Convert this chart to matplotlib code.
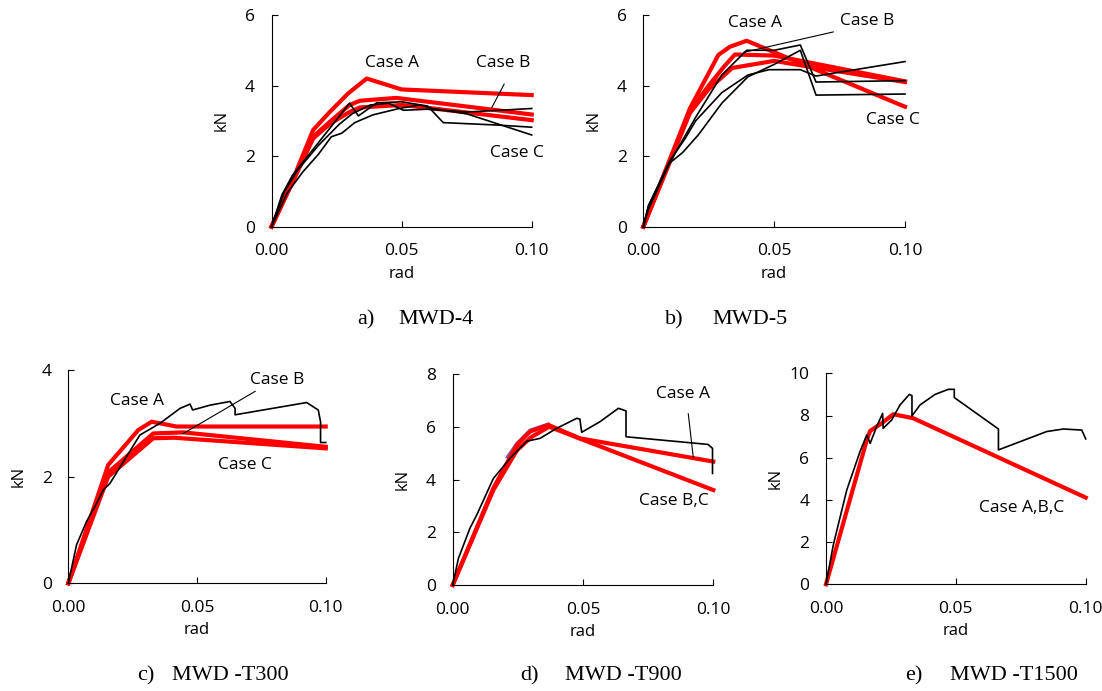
import matplotlib.pyplot as plt

plt.rcParams['font.family'] = ['Open Sans', 'DejaVu Sans']

RED = '#ff0000'
W, H = 1102, 691

# ---- a) MWD-4 ----
a_A_x = [0, 0.0083, 0.016, 0.0225, 0.0295, 0.0366, 0.050, 0.100]
a_A_y = [0, 1.35, 2.74, 3.26, 3.78, 4.20, 3.89, 3.73]
a_B_x = [0, 0.0083, 0.016, 0.0225, 0.030, 0.034, 0.048, 0.100]
a_B_y = [0, 1.30, 2.55, 2.98, 3.45, 3.57, 3.65, 3.18]
a_C_x = [0, 0.0083, 0.016, 0.0225, 0.030, 0.034, 0.050, 0.061, 0.100]
a_C_y = [0, 1.30, 2.50, 2.92, 3.25, 3.38, 3.45, 3.36, 3.02]
a_t1_x = [0, 0.004, 0.008, 0.015, 0.022, 0.030, 0.0334, 0.0404, 0.050, 0.060, 0.066, 0.087, 0.100]
a_t1_y = [0, 0.90, 1.45, 2.10, 2.75, 3.50, 3.14, 3.51, 3.54, 3.42, 2.95, 2.88, 2.82]
a_t2_x = [0, 0.005, 0.010, 0.018, 0.026, 0.031, 0.038, 0.045, 0.0507, 0.060, 0.075, 0.100]
a_t2_y = [0, 1.00, 1.60, 2.30, 2.90, 3.20, 3.45, 3.50, 3.30, 3.33, 3.25, 3.35]
a_t3_x = [0, 0.006, 0.012, 0.018, 0.023, 0.027, 0.032, 0.039, 0.049, 0.057, 0.062, 0.075, 0.100]
a_t3_y = [0, 0.95, 1.55, 2.05, 2.55, 2.65, 2.95, 3.17, 3.35, 3.45, 3.35, 3.20, 2.60]

# ---- b) MWD-5 ----
b_A_x = [0, 0.0178, 0.0287, 0.0331, 0.0395, 0.100]
b_A_y = [0, 3.35, 4.87, 5.10, 5.27, 3.40]
b_B_x = [0, 0.0178, 0.025, 0.031, 0.035, 0.050, 0.100]
b_B_y = [0, 3.28, 4.00, 4.55, 4.88, 4.85, 4.12]
b_C_x = [0, 0.0178, 0.025, 0.034, 0.050, 0.058, 0.100]
b_C_y = [0, 3.22, 3.90, 4.50, 4.70, 4.60, 4.10]
b_t1_x = [0, 0.002, 0.010, 0.020, 0.030, 0.0395, 0.050, 0.060, 0.066, 0.100]
b_t1_y = [0, 0.60, 1.80, 3.10, 4.30, 5.00, 5.00, 5.15, 4.10, 4.14]
b_t2_x = [0, 0.002, 0.010, 0.015, 0.021, 0.030, 0.040, 0.050, 0.060, 0.066, 0.100]
b_t2_y = [0, 0.50, 1.80, 2.10, 2.60, 3.50, 4.25, 4.60, 5.00, 3.73, 3.76]
b_t3_x = [0, 0.002, 0.010, 0.016, 0.020, 0.030, 0.040, 0.048, 0.060, 0.066, 0.100]
b_t3_y = [0, 0.60, 1.85, 2.50, 3.00, 3.80, 4.30, 4.45, 4.45, 4.27, 4.68]

# ---- c) MWD-T300 ----
c_A_x = [0, 0.0155, 0.0272, 0.0324, 0.042, 0.100]
c_A_y = [0, 2.22, 2.875, 3.03, 2.94, 2.94]
c_B_x = [0, 0.0155, 0.033, 0.0447, 0.100]
c_B_y = [0, 2.08, 2.81, 2.83, 2.56]
c_C_x = [0, 0.0155, 0.033, 0.041, 0.100]
c_C_y = [0, 2.00, 2.72, 2.73, 2.53]
c_t1_x = [0, 0.0032, 0.0071, 0.011, 0.0136, 0.0162, 0.0278, 0.0356, 0.0434, 0.0473, 0.0483,
          0.055, 0.0628, 0.0648, 0.0648, 0.0926, 0.0971, 0.098, 0.098, 0.100]
c_t1_y = [0, 0.72, 1.16, 1.50, 1.75, 1.875, 2.78, 3.00, 3.28, 3.36, 3.25,
          3.34, 3.41, 3.28, 3.16, 3.39, 3.25, 3.03, 2.64, 2.64]

# ---- d) MWD-T900 ----
d_A_x = [0, 0.0156, 0.0246, 0.0297, 0.0367, 0.0488, 0.100]
d_A_y = [0, 3.67, 5.31, 5.82, 6.07, 5.56, 4.68]
d_BC_x = [0, 0.0156, 0.0246, 0.030, 0.037, 0.100]
d_BC_y = [0, 3.60, 5.10, 5.60, 6.00, 3.60]
d_P_x = [0.021, 0.0246, 0.0297, 0.0367]
d_P_y = [4.85, 5.36, 5.87, 6.10]
d_t1_x = [0, 0.0022, 0.0066, 0.0092, 0.0156, 0.022, 0.0284, 0.0335, 0.0399, 0.0476, 0.0488,
          0.0495, 0.0565, 0.0604, 0.0636, 0.0665, 0.0665, 0.098, 0.0997, 0.0997]
d_t1_y = [0, 1.01, 2.15, 2.65, 4.04, 4.80, 5.45, 5.56, 5.94, 6.32, 6.29,
          5.79, 6.19, 6.47, 6.70, 6.60, 5.62, 5.33, 5.18, 4.23]

# ---- e) MWD-T1500 ----
e_ABC_x = [0, 0.0157, 0.017, 0.0214, 0.0259, 0.0336, 0.100]
e_ABC_y = [0, 6.84, 7.27, 7.63, 8.06, 7.87, 4.11]
e_t1_x = [0, 0.0028, 0.008, 0.0131, 0.0157, 0.017, 0.0195, 0.0218, 0.022, 0.0253, 0.0285,
          0.0321, 0.0331, 0.0331, 0.0362, 0.042, 0.0471, 0.0494, 0.0494, 0.0664, 0.0664,
          0.085, 0.0914, 0.0985, 0.100]
e_t1_y = [0, 1.86, 4.47, 6.29, 7.08, 6.68, 7.47, 8.10, 7.39, 7.79, 8.50,
          9.00, 8.94, 7.98, 8.50, 9.00, 9.24, 9.24, 8.85, 7.36, 6.37,
          7.24, 7.36, 7.31, 6.89]

x_ticks = [0, 0.05, 0.10]
x_ticklabels = ['0.00', '0.05', '0.10']

fig = plt.figure(figsize=(W / 100, H / 100), dpi=100)


def panel(box, ymax, ystep, reds, blacks, labels, leader=None, extra=None):
    x0, y0, x1, y1 = box  # pixel box of the plot area
    ax = fig.add_axes([x0 / W, 1 - y1 / H, (x1 - x0) / W, (y1 - y0) / H])
    if extra:
        ax.plot(extra[0], extra[1], color='#7b5ea7', lw=2.4, clip_on=False)
    for xs, ys in reds:
        ax.plot(xs, ys, color=RED, lw=3.0, clip_on=False, solid_joinstyle='round')
    for xs, ys in blacks:
        ax.plot(xs, ys, color='black', lw=1.2, clip_on=False)
    ax.set_xlim(0, 0.1)
    ax.set_ylim(0, ymax)
    ax.set_xticks(x_ticks)
    ax.set_xticklabels(x_ticklabels)
    ax.set_yticks(list(range(0, ymax + 1, ystep)))
    for s in ['top', 'right']:
        ax.spines[s].set_visible(False)
    for s in ['left', 'bottom']:
        ax.spines[s].set_linewidth(0.8)
    ax.tick_params(direction='in', length=4.5, width=0.8, pad=12, labelsize=12.5)
    ax.text(-50 / (x1 - x0), 0.5, 'kN', rotation=90, ha='center', va='center',
            fontsize=12, transform=ax.transAxes)
    ax.text(0.5, -47 / (y1 - y0), 'rad', ha='center', va='center',
            fontsize=12, transform=ax.transAxes)
    for tx, ty, s in labels:
        ax.text(tx, ty, s, ha='center', va='center', fontsize=12.5)
    if leader:
        ax.plot(leader[0], leader[1], color='black', lw=0.8, clip_on=False)
    return ax


panel((271.5, 15, 531.7, 226.7), 6, 2,
      [(a_A_x, a_A_y), (a_B_x, a_B_y), (a_C_x, a_C_y)],
      [(a_t1_x, a_t1_y), (a_t2_x, a_t2_y), (a_t3_x, a_t3_y)],
      [(0.0462, 4.63, 'Case A'), (0.089, 4.63, 'Case B'), (0.0942, 2.10, 'Case C')],
      leader=([0.0894, 0.0847], [4.04, 3.38]))

panel((643.3, 15, 905, 226.7), 6, 2,
      [(b_A_x, b_A_y), (b_B_x, b_B_y), (b_C_x, b_C_y)],
      [(b_t1_x, b_t1_y), (b_t2_x, b_t2_y), (b_t3_x, b_t3_y)],
      [(0.0427, 5.77, 'Case A'), (0.0854, 5.84, 'Case B'), (0.0954, 3.02, 'Case C')],
      leader=([0.0726, 0.0383], [5.52, 4.94]))

panel((68.3, 370, 325.7, 583.3), 4, 2,
      [(c_A_x, c_A_y), (c_B_x, c_B_y), (c_C_x, c_C_y)],
      [(c_t1_x, c_t1_y)],
      [(0.0268, 3.41, 'Case A'), (0.081, 3.81, 'Case B'), (0.0686, 2.21, 'Case C')],
      leader=([0.0726, 0.0447], [3.60, 2.81]))

panel((452.7, 374, 713.3, 585), 8, 2,
      [(d_A_x, d_A_y), (d_BC_x, d_BC_y)],
      [(d_t1_x, d_t1_y)],
      [(0.0885, 7.26, 'Case A'), (0.0847, 3.19, 'Case B,C')],
      leader=([0.0904, 0.0923], [6.49, 4.85]),
      extra=(d_P_x, d_P_y))

panel((826, 373.3, 1085.7, 584.3), 10, 2,
      [(e_ABC_x, e_ABC_y)],
      [(e_t1_x, e_t1_y)],
      [(0.0754, 3.60, 'Case A,B,C')])

# captions
cap = dict(fontsize=16, family='Liberation Serif', ha='left', va='center')
for px, py, s in [(357, 320, 'a)'), (398, 320, 'MWD-4'),
                  (665, 320, 'b)'), (712, 320, 'MWD-5'),
                  (137, 676, 'c)'), (172, 676, 'MWD -T300'),
                  (520, 676, 'd)'), (565, 676, 'MWD -T900'),
                  (905, 676, 'e)'), (950, 676, 'MWD -T1500')]:
    fig.text(px / W, 1 - py / H, s, **cap)

fig.savefig('out.png', dpi=100)
